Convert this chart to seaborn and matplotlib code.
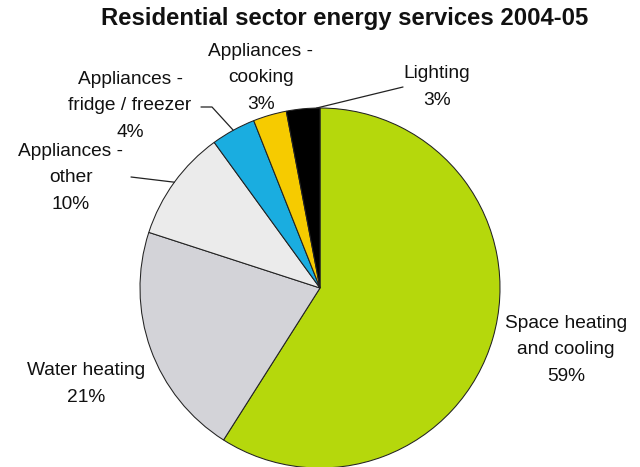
import numpy as np
import matplotlib
matplotlib.use("Agg")
import matplotlib.pyplot as plt
import seaborn as sns

# Residential energy use by service, 2004-05 (percent of total)
categories = ["Space heating\nand cooling", "Water heating", "Appliances -\nother",
              "Appliances -\nfridge / freezer", "Appliances -\ncooking", "Lighting"]
shares = [59, 21, 10, 4, 3, 3]
slice_colors = ["#B5D80C", "#D3D3D8", "#EBEBEB", "#1AADE0", "#F6CB00", "#000000"]
title = "Residential sector energy services 2004-05"

sns.set_theme(style="white")
plt.rcParams["font.family"] = ["Liberation Sans", "DejaVu Sans"]

W, H = 640, 467
fig = plt.figure(figsize=(W / 100, H / 100), dpi=100)
ax = fig.add_axes([0, 0, 1, 1])


def px(x, y):
    """Pixel position (origin top-left) -> data coordinates."""
    return x, H - y


cx, cy = px(320, 288)
R = 180
ax.pie(shares, colors=slice_colors, startangle=90, counterclock=False,
       center=(cx, cy), radius=R,
       wedgeprops=dict(edgecolor="#222222", linewidth=0.75))
ax.set_xlim(0, W)
ax.set_ylim(0, H)
ax.set_aspect("equal")
ax.axis("off")

# slice boundary angles (clockwise from 12 o'clock)
bounds = 90 - 360 * np.concatenate([[0], np.cumsum(shares)]) / sum(shares)


def edge_point(i, frac):
    a = np.deg2rad(bounds[i] + frac * (bounds[i + 1] - bounds[i]))
    return cx + R * np.cos(a), cy + R * np.sin(a)


# label block centres (pixels)
label_pos = [(566, 350), (86, 384), (71, 178), (130, 106), (261, 78), (437, 87)]
for name, v, (x, y) in zip(categories, shares, label_pos):
    ax.text(*px(x, y), f"{name}\n{v}%", ha="center", va="center",
            multialignment="center", fontsize=13.8, linespacing=1.72,
            color="#111111")

# leader lines
lw = 0.9
# Lighting
x0, y0 = edge_point(5, 0.9)
ax.plot([x0, px(403, 87)[0]], [y0, px(403, 87)[1]], color="#222222", lw=lw)
# Fridge / freezer
x0, y0 = edge_point(3, 0.5)
pts = [px(212, 107), px(201, 107)]
ax.plot([x0] + [p[0] for p in pts], [y0] + [p[1] for p in pts], color="#222222", lw=lw)
# Other appliances
x0, y0 = edge_point(2, 0.5)
ax.plot([x0, px(131, 177)[0]], [y0, px(131, 177)[1]], color="#222222", lw=lw)

ax.text(*px(345, 19), title, ha="center", va="center", fontsize=17.2,
        fontweight="bold", color="#111111")

fig.savefig("out.png", dpi=100, facecolor="white")
